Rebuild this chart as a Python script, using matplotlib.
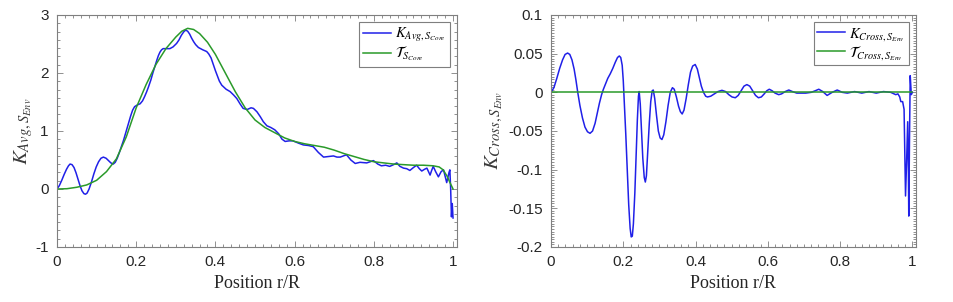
import matplotlib
matplotlib.use("Agg")
import matplotlib.pyplot as plt
from matplotlib.ticker import AutoMinorLocator

plt.rcParams['font.family'] = ['Liberation Sans', 'DejaVu Sans']
plt.rcParams['mathtext.fontset'] = 'stix'

# left panel: K_Avg (blue) and T (green)
r_avg = [0, 0.006, 0.012, 0.018, 0.024, 0.029, 0.033, 0.038, 0.043, 0.048, 0.053, 0.058, 0.063,
         0.068, 0.072, 0.076, 0.081, 0.087, 0.093, 0.099, 0.105, 0.111, 0.117, 0.124, 0.13, 0.136,
         0.142, 0.147, 0.152, 0.157, 0.162, 0.168, 0.174, 0.18, 0.186, 0.191, 0.196, 0.203, 0.21,
         0.216, 0.221, 0.226, 0.231, 0.237, 0.242, 0.247, 0.252, 0.256, 0.26, 0.264, 0.268, 0.277,
         0.285, 0.293, 0.302, 0.308, 0.314, 0.32, 0.325, 0.33, 0.335, 0.34, 0.345, 0.35, 0.357,
         0.368, 0.378, 0.383, 0.389, 0.395, 0.4, 0.405, 0.41, 0.416, 0.427, 0.437, 0.446, 0.454,
         0.462, 0.47, 0.48, 0.49, 0.496, 0.505, 0.513, 0.521, 0.53, 0.54, 0.55, 0.56, 0.568, 0.576,
         0.586, 0.596, 0.61, 0.622, 0.635, 0.647, 0.66, 0.673, 0.685, 0.698, 0.707, 0.715, 0.723,
         0.731, 0.742, 0.753, 0.765, 0.782, 0.791, 0.799, 0.81, 0.819, 0.83, 0.84, 0.85, 0.858,
         0.866, 0.875, 0.883, 0.891, 0.9, 0.908, 0.915, 0.921, 0.928, 0.934, 0.938, 0.942, 0.946,
         0.95, 0.956, 0.963, 0.97, 0.976, 0.98, 0.984, 0.987, 0.99, 0.992, 0.994, 0.996, 0.998, 1.0]
k_avg = [0, 0.06, 0.15, 0.25, 0.34, 0.40, 0.43, 0.42, 0.37, 0.28, 0.17, 0.06, -0.03,
         -0.08, -0.09, -0.07, 0.0, 0.12, 0.26, 0.38, 0.47, 0.53, 0.55, 0.53, 0.49, 0.45,
         0.43, 0.46, 0.53, 0.62, 0.72, 0.84, 0.98, 1.12, 1.26, 1.36, 1.42, 1.45, 1.47,
         1.52, 1.59, 1.67, 1.76, 1.88, 2.00, 2.11, 2.22, 2.30, 2.36, 2.40, 2.42, 2.42,
         2.42, 2.45, 2.51, 2.57, 2.65, 2.71, 2.74, 2.72, 2.67, 2.60, 2.54, 2.49, 2.44,
         2.40, 2.37, 2.33, 2.26, 2.14, 2.04, 1.95, 1.86, 1.79, 1.72, 1.68, 1.62, 1.56,
         1.47, 1.39, 1.37, 1.40, 1.39, 1.33, 1.25, 1.16, 1.09, 1.06, 1.02, 0.95, 0.86, 0.82,
         0.83, 0.83, 0.79, 0.76, 0.75, 0.73, 0.63, 0.55, 0.56, 0.57, 0.55, 0.55, 0.57,
         0.59, 0.50, 0.44, 0.46, 0.45, 0.47, 0.49, 0.43, 0.40, 0.41, 0.39, 0.42, 0.45,
         0.39, 0.36, 0.35, 0.32, 0.37, 0.41, 0.35, 0.31, 0.34, 0.36, 0.30, 0.24, 0.32,
         0.39, 0.30, 0.21, 0.30, 0.33, 0.22, 0.11, 0.20, 0.29, 0.33, 0.0, -0.48, -0.25, -0.50]

r_t = [0, 0.025, 0.05, 0.075, 0.1, 0.125, 0.15, 0.175, 0.2, 0.225, 0.25, 0.275, 0.3, 0.315, 0.33,
       0.345, 0.36, 0.38, 0.4, 0.425, 0.45, 0.475, 0.5, 0.525, 0.55, 0.575, 0.6, 0.625, 0.65, 0.675,
       0.7, 0.725, 0.75, 0.775, 0.8, 0.825, 0.85, 0.875, 0.9, 0.925, 0.95, 0.965, 0.975, 0.985,
       0.993, 1.0]
t_core = [0, 0.005, 0.03, 0.07, 0.15, 0.30, 0.52, 0.90, 1.40, 1.80, 2.15, 2.42, 2.62, 2.72, 2.77,
          2.75, 2.68, 2.53, 2.32, 2.00, 1.68, 1.40, 1.19, 1.06, 0.97, 0.88, 0.82, 0.78, 0.75, 0.72,
          0.67, 0.61, 0.56, 0.51, 0.47, 0.45, 0.43, 0.42, 0.41, 0.41, 0.40, 0.38, 0.33, 0.22,
          0.10, 0.0]

# right panel: K_Cross (blue), T_Cross is zero everywhere
r_cross = [0, 0.008, 0.016, 0.024, 0.032, 0.039, 0.046, 0.052, 0.058, 0.064, 0.069, 0.074, 0.08,
           0.087, 0.094, 0.101, 0.108, 0.115, 0.122, 0.128, 0.134, 0.14, 0.145, 0.151, 0.157, 0.164,
           0.171, 0.178, 0.184, 0.189, 0.193, 0.197, 0.2, 0.203, 0.207, 0.211, 0.215, 0.219, 0.222,
           0.225, 0.228, 0.232, 0.236, 0.239, 0.242, 0.244, 0.247, 0.25, 0.254, 0.258, 0.261, 0.264,
           0.268, 0.272, 0.276, 0.28, 0.283, 0.287, 0.292, 0.297, 0.302, 0.307, 0.312, 0.318, 0.324,
           0.33, 0.336, 0.341, 0.347, 0.353, 0.358, 0.363, 0.368, 0.374, 0.38, 0.386, 0.392, 0.399,
           0.405, 0.41, 0.416, 0.422, 0.428, 0.433, 0.442, 0.452, 0.462, 0.473, 0.483, 0.492, 0.501,
           0.51, 0.518, 0.526, 0.534, 0.542, 0.55, 0.558, 0.566, 0.574, 0.582, 0.59, 0.597, 0.604,
           0.612, 0.62, 0.63, 0.638, 0.648, 0.658, 0.668, 0.68, 0.69, 0.705, 0.72, 0.731, 0.741,
           0.752, 0.764, 0.778, 0.792, 0.806, 0.82, 0.84, 0.86, 0.88, 0.9, 0.92, 0.94, 0.954, 0.96,
           0.965, 0.968, 0.973, 0.977, 0.979, 0.981, 0.984, 0.987, 0.989, 0.99, 0.992, 0.994, 0.997,
           1.0]
k_cross = [0, 0.006, 0.018, 0.031, 0.042, 0.049, 0.0508, 0.049, 0.042, 0.030, 0.016, 0.0, -0.017,
           -0.033, -0.045, -0.051, -0.053, -0.050, -0.040, -0.027, -0.014, -0.003, 0.004, 0.011,
           0.018, 0.024, 0.031, 0.039, 0.045, 0.047, 0.045, 0.035, 0.015, -0.015, -0.055, -0.100,
           -0.145, -0.176, -0.187, -0.186, -0.170, -0.130, -0.075, -0.035, -0.005, 0.001, -0.015,
           -0.045, -0.085, -0.110, -0.116, -0.108, -0.075, -0.040, -0.012, 0.002, 0.003, -0.008,
           -0.030, -0.050, -0.059, -0.061, -0.055, -0.038, -0.017, 0.0, 0.006, 0.004, -0.006,
           -0.018, -0.025, -0.028, -0.023, -0.008, 0.010, 0.026, 0.034, 0.036, 0.030, 0.020, 0.008,
           0.0, -0.005, -0.006, -0.005, -0.002, 0.001, 0.0026, 0.001, -0.003, -0.006, -0.007,
           -0.004, 0.002, 0.008, 0.010, 0.008, 0.002, -0.004, -0.007, -0.006, -0.002, 0.002, 0.004,
           0.002, -0.001, -0.003, -0.002, 0.001, 0.003, 0.001, -0.001, -0.001, -0.001, 0.0, 0.002,
           0.004, 0.001, -0.004, 0.0, 0.003, 0.0, -0.001, 0.001, -0.001, 0.001, -0.001, 0.001, 0.0,
           -0.003, -0.002, -0.006, -0.012, -0.012, -0.022, -0.080, -0.134, -0.090, -0.038, -0.100,
           -0.160, -0.060, 0.0216, -0.003, 0.0]
r_tcross = [0, 1.0]
t_cross = [0, 0]

blue = '#2020e8'
green = '#2a9a2a'
frame = '#7f7f7f'
txt = '#262626'

fig = plt.figure(figsize=(9.54, 3.02), dpi=100)
ax1 = fig.add_axes([57/954, 55/302, 400/954, 232/302])
ax2 = fig.add_axes([551/954, 55/302, 365/954, 232/302])


def style_ax(ax, ylim, yticks, ylabels, yminor):
    ax.set_xlim(0, 1.01)
    ax.set_ylim(*ylim)
    ax.set_xticks([0, 0.2, 0.4, 0.6, 0.8, 1])
    ax.set_xticklabels(['0', '0.2', '0.4', '0.6', '0.8', '1'])
    ax.set_yticks(yticks)
    ax.set_yticklabels(ylabels)
    ax.xaxis.set_minor_locator(AutoMinorLocator(10))
    ax.yaxis.set_minor_locator(AutoMinorLocator(yminor))
    ax.tick_params(which='both', direction='in', top=True, right=True, colors=frame,
                   labelcolor=txt, labelsize=11, width=0.6, pad=6)
    ax.tick_params(which='major', length=4)
    ax.tick_params(which='minor', length=2)
    for s in ax.spines.values():
        s.set_color(frame)
        s.set_linewidth(0.8)
    ax.set_xlabel('Position r/R', family='Liberation Serif', fontsize=13, color=txt, labelpad=4)


ax1.plot(r_avg, k_avg, color=blue, lw=1.1, label=r'$K_{Avg,S_{Core}}$')
ax1.plot(r_t, t_core, color=green, lw=1.1, label=r'$\mathcal{T}_{S_{Core}}$')
style_ax(ax1, (-1, 3), [-1, 0, 1, 2, 3], ['-1', '0', '1', '2', '3'], 7)
ax1.set_ylabel(r'$K_{Avg,S_{Env}}$', fontsize=15, color='#3a3a3a', labelpad=0)

ax2.plot(r_cross, k_cross, color=blue, lw=1.1, label=r'$K_{Cross,S_{Env}}$')
ax2.plot(r_tcross, t_cross, color=green, lw=1.1, label=r'$\mathcal{T}_{Cross,S_{Env}}$')
style_ax(ax2, (-0.2, 0.1), [-0.2, -0.15, -0.1, -0.05, 0, 0.05, 0.1],
         ['-0.2', '-0.15', '-0.1', '-0.05', '0', '0.05', '0.1'], 15)
ax2.set_ylabel(r'$K_{Cross,S_{Env}}$', fontsize=15, color='#3a3a3a', labelpad=2)

for ax in (ax1, ax2):
    leg = ax.legend(loc='upper right', fontsize=10.5, fancybox=False, framealpha=1,
                    edgecolor=frame, handlelength=1.9, borderpad=0.25, labelspacing=0.05,
                    handletextpad=0.3, borderaxespad=0.5)
    leg.get_frame().set_linewidth(0.8)

fig.savefig('out.png', dpi=100)
